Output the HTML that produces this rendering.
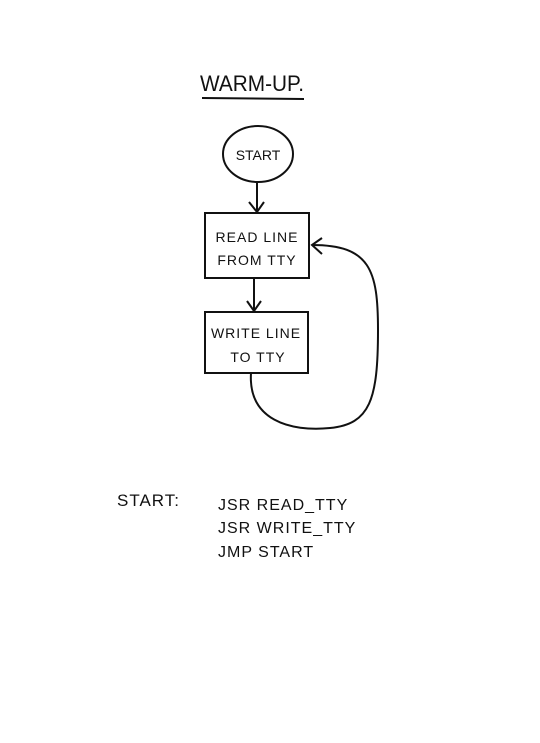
<!DOCTYPE html>
<html><head><style>
body{margin:0;background:#fff;}
svg{display:block}
text{font-family:"Liberation Sans",sans-serif;fill:#111;}
</style></head><body>
<svg width="540" height="743" viewBox="0 0 540 743">
<rect width="540" height="743" fill="#fff"/>
<g fill="none" stroke="#111" stroke-width="2">
<line x1="202" y1="98" x2="304" y2="99"/>
<ellipse cx="258" cy="154" rx="35" ry="28"/>
<line x1="257" y1="182" x2="257" y2="212"/>
<polyline points="249,202 257,212 264,202"/>
<rect x="205" y="213" width="104" height="65"/>
<line x1="254" y1="278" x2="254" y2="311"/>
<polyline points="247,301 254,311 261,301"/>
<rect x="205" y="312" width="103" height="61"/>
<path d="M251,373 C248,420 290,432 330,428 C370,424 378,400 378,330 C378,270 370,245 312,245"/>
<polyline points="322,238 312,245 322,254"/>
</g>
<text x="200" y="91" font-size="22" textLength="104" lengthAdjust="spacingAndGlyphs">WARM-UP.</text>
<text x="258" y="160" font-size="14" text-anchor="middle">START</text>
<text x="257" y="242" font-size="14" text-anchor="middle" letter-spacing="1">READ LINE</text>
<text x="257" y="265" font-size="14" text-anchor="middle" letter-spacing="1">FROM TTY</text>
<text x="256" y="338" font-size="14" text-anchor="middle" letter-spacing="1">WRITE LINE</text>
<text x="258" y="362" font-size="14" text-anchor="middle" letter-spacing="1">TO TTY</text>
<text x="117" y="506" font-size="17" letter-spacing="1">START:</text>
<text x="218" y="510" font-size="16" letter-spacing="1">JSR  READ_TTY</text>
<text x="218" y="533" font-size="16" letter-spacing="1">JSR  WRITE_TTY</text>
<text x="218" y="557" font-size="16" letter-spacing="1">JMP  START</text>
</svg>
</body></html>
